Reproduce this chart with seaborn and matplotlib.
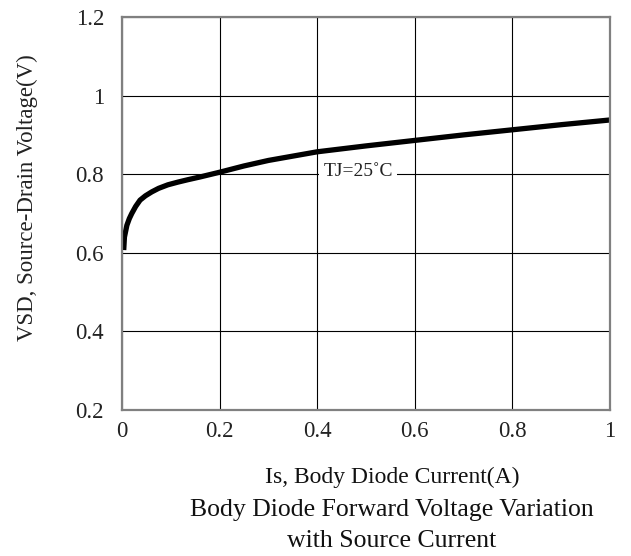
import matplotlib
matplotlib.use("Agg")
import matplotlib.pyplot as plt
import seaborn as sns
import pandas as pd

# Data
current_a = [0.0035, 0.005, 0.01, 0.015, 0.02, 0.028, 0.037, 0.048, 0.061, 0.075, 0.094, 0.115, 0.135, 0.16,
             0.2, 0.25, 0.3, 0.4, 0.5, 0.6, 0.7, 0.8, 0.9, 1.0]
vsd_v = [0.607, 0.64, 0.67, 0.687, 0.70, 0.718, 0.734, 0.745, 0.755, 0.764, 0.773, 0.780, 0.786, 0.793,
         0.805, 0.821, 0.835, 0.857, 0.872, 0.886, 0.900, 0.913, 0.926, 0.938]
x_ticks = [0, 0.2, 0.4, 0.6, 0.8, 1]
x_tick_labels = ["0", "0.2", "0.4", "0.6", "0.8", "1"]
y_ticks = [0.2, 0.4, 0.6, 0.8, 1.0, 1.2]
y_tick_labels = ["0.2", "0.4", "0.6", "0.8", "1", "1.2"]

sns.set_style("white")
plt.rcParams['font.family'] = ['Liberation Serif', 'DejaVu Serif']

df = pd.DataFrame({"Is": current_a, "Vsd": vsd_v})

W, H = 631, 556
fig = plt.figure(figsize=(W/100, H/100), dpi=100)
ax = fig.add_axes([122/W, 1-410/H, (610-122)/W, (410-17)/H])

sns.lineplot(data=df, x="Is", y="Vsd", ax=ax, color="black", linewidth=3.8, estimator=None, sort=True,
             solid_joinstyle="round", solid_capstyle="butt")

ax.set_xlim(0, 1)
ax.set_ylim(0.2, 1.2)
ax.set_xticks(x_ticks)
ax.set_xticklabels(x_tick_labels)
ax.set_yticks(y_ticks)
ax.set_yticklabels(y_tick_labels)
ax.grid(True, color="black", linewidth=0.8)
ax.set_axisbelow(True)
ax.tick_params(axis="both", length=0, labelsize=16.5, colors="#222222")
ax.tick_params(axis="y", pad=13)
ax.tick_params(axis="x", pad=8)
for s in ax.spines.values():
    s.set_color("#808080")
    s.set_linewidth(1.6)

ax.set_xlabel("")
ax.set_ylabel("")
fig.text(27/W, 1-198/H, "VSD, Source-Drain Voltage(V)", rotation=90, ha="center", va="center",
         fontsize=16.5, color="#222222")

ax.text(0.484, 0.806, "TJ=25\u02daC", fontsize=14, ha="center", va="center", color="#222222",
        bbox=dict(facecolor="white", edgecolor="none", pad=3))

cx = 392 / W
fig.text(cx, 1-483/H, "Is, Body Diode Current(A)", ha="center", va="baseline", fontsize=17, color="#111111")
fig.text(cx, 1-516/H, "Body Diode Forward Voltage Variation", ha="center", va="baseline", fontsize=18.5, color="#111111")
fig.text(cx, 1-547/H, "with Source Current", ha="center", va="baseline", fontsize=18.5, color="#111111")

fig.savefig("out.png", dpi=100)
